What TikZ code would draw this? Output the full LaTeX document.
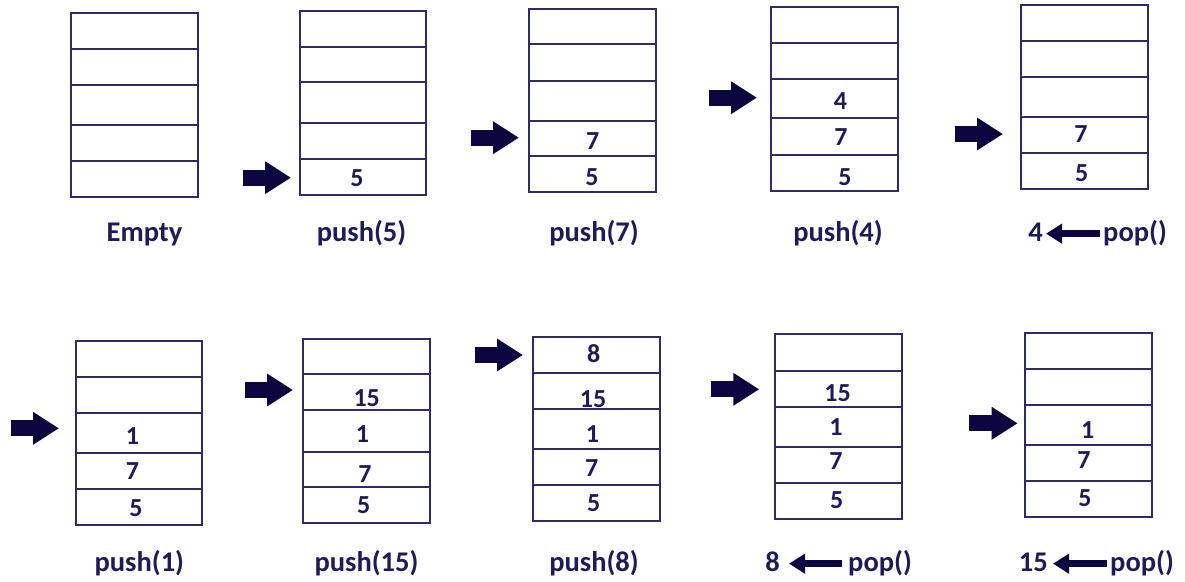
\documentclass[tikz,border=0pt]{standalone}
\usepackage{fontspec}
\setmainfont{Carlito}
\usetikzlibrary{arrows.meta}
\definecolor{linec}{HTML}{2E2A6B}
\definecolor{textc}{HTML}{1E1A5C}
\definecolor{arrc}{HTML}{0C0640}
\tikzset{
  stackbox/.style={draw=linec, line width=1.8pt, inner sep=0pt, outer sep=0pt},
  cellline/.style={draw=linec, line width=1.8pt},
  num/.style={text=textc, font=\fontsize{26}{26}\selectfont\bfseries, inner sep=0pt},
  lbl/.style={text=textc, font=\fontsize{28.5}{28.5}\selectfont\bfseries, inner sep=0pt},
  pusharrow/.style={draw=arrc, line width=16pt, -{Triangle[width=31pt,length=26pt]}},
  poparrow/.style={draw=arrc, line width=7pt, -{Triangle[width=19pt,length=16pt]}},
}
\newcommand\stk[9]{%
  \node[stackbox, anchor=north west, minimum width={(#3-#2)*1pt}, minimum height={(#9-#4)*1pt}] (#1) at (#2,#4) {};
  \foreach \yy in {#5,#6,#7,#8} {\draw[cellline] (#2,\yy) -- (#3,\yy);}
}
\begin{document}
\begin{tikzpicture}[x=1pt,y=-1pt]
\useasboundingbox (0,0) rectangle (1185,581);
% ---------- top row stacks
\stk{T1}{71}{198}{12.7}{48.7}{85}{124.7}{161}{196.7}
\stk{T2}{300}{426}{11}{46.7}{82.3}{123.3}{159}{195}
\stk{T3}{529}{656}{9}{44.3}{80.7}{120.7}{156.3}{192.3}
\stk{T4}{771}{898}{6.7}{42.7}{79}{118.3}{155.3}{190.7}
\stk{T5}{1021}{1148}{4.7}{40.7}{77}{117}{153}{189}
% ---------- bottom row stacks
\stk{B1}{75.7}{202}{341}{377.3}{413.3}{452.7}{489.3}{525}
\stk{B2}{303.3}{430}{339}{374.3}{410}{451.7}{487.3}{523.3}
\stk{B3}{533.3}{660}{336.7}{372.7}{409}{448.7}{484.7}{521}
\stk{B4}{775}{902.3}{334.3}{370.7}{407.3}{446.7}{483.3}{519.3}
\stk{B5}{1025.3}{1152.3}{332.7}{368.7}{405.3}{445}{481}{516.7}
% ---------- cell values, top row
\node[num] (t2a) at (357,177.8) {5};
\node[num] (t3a) at (592.7,141.5) {7};
\node[num] (t3b) at (592,176.7) {5};
\node[num] (t4a) at (840.5,100.8) {4};
\node[num] (t4b) at (841,137.5) {7};
\node[num] (t4c) at (845,176.7) {5};
\node[num] (t5a) at (1081,133.8) {7};
\node[num] (t5b) at (1081.7,173.3) {5};
% ---------- cell values, bottom row
\node[num] (b1a) at (132.5,436.2) {1};
\node[num] (b1b) at (132.5,471.3) {7};
\node[num] (b1c) at (136,508) {5};
\node[num] (b2a) at (366.7,398.3) {15};
\node[num] (b2b) at (362.5,434.3) {1};
\node[num] (b2c) at (365,474.5) {7};
\node[num] (b2d) at (363.8,504.7) {5};
\node[num] (b3a) at (593.7,353.3) {8};
\node[num] (b3b) at (593,398.7) {15};
\node[num] (b3c) at (592.5,434.3) {1};
\node[num] (b3d) at (591.7,468.3) {7};
\node[num] (b3e) at (593.7,503.3) {5};
\node[num] (b4a) at (837.5,392.8) {15};
\node[num] (b4b) at (836,427) {1};
\node[num] (b4c) at (836,460.7) {7};
\node[num] (b4d) at (836.7,500) {5};
\node[num] (b5a) at (1087.8,430.5) {1};
\node[num] (b5b) at (1084,460) {7};
\node[num] (b5c) at (1085,498) {5};
% ---------- push arrows (top-of-stack pointers)
\coordinate (p2s) at (243,177.7);   \coordinate (p2e) at (291,177.7);
\coordinate (p3s) at (471,137.7);   \coordinate (p3e) at (519,137.7);
\coordinate (p4s) at (709,97.7);    \coordinate (p4e) at (757,97.7);
\coordinate (p5s) at (955,134);     \coordinate (p5e) at (1003,134);
\coordinate (q1s) at (11,428.3);    \coordinate (q1e) at (59,428.3);
\coordinate (q2s) at (245,390);     \coordinate (q2e) at (293,390);
\coordinate (q3s) at (475,355);     \coordinate (q3e) at (523,355);
\coordinate (q4s) at (710.7,389.3); \coordinate (q4e) at (759.3,389.3);
\coordinate (q5s) at (969,423.3);   \coordinate (q5e) at (1017.7,423.3);
\foreach \a in {p2,p3,p4,p5,q1,q2,q3,q4,q5} {\draw[pusharrow] (\a s) -- (\a e);}
% ---------- labels
\node[lbl, anchor=base] (l1) at (144.5,241) {Empty};
\node[lbl, anchor=base] (l2) at (361.5,241) {push(5)};
\node[lbl, anchor=base] (l3) at (594,241) {push(7)};
\node[lbl, anchor=base] (l4) at (838,241) {push(4)};
\node[lbl, anchor=base east] (o5) at (1043,241) {4};
\node[lbl, anchor=base west] (l5) at (1103,241) {pop()};
\node[lbl, anchor=base] (m1) at (139.3,571) {push(1)};
\node[lbl, anchor=base] (m2) at (366.5,571) {push(15)};
\node[lbl, anchor=base] (m3) at (594,571) {push(8)};
\node[lbl, anchor=base east] (n4) at (780,571) {8};
\node[lbl, anchor=base west] (m4) at (848,571) {pop()};
\node[lbl, anchor=base east] (n5) at (1048,571) {15};
\node[lbl, anchor=base west] (m5) at (1110,571) {pop()};
% ---------- pop arrows
\draw[poparrow, shorten <=3pt, shorten >=3pt] ([yshift=-1pt]l5.west) -- ([yshift=-1pt]l5.west -| o5.east);
\draw[poparrow, shorten <=6pt, shorten >=9pt] ([yshift=-1pt]m4.west) -- ([yshift=-1pt]m4.west -| n4.east);
\draw[poparrow, shorten <=3pt, shorten >=5pt] ([yshift=-1pt]m5.west) -- ([yshift=-1pt]m5.west -| n5.east);
\end{tikzpicture}
\end{document}
